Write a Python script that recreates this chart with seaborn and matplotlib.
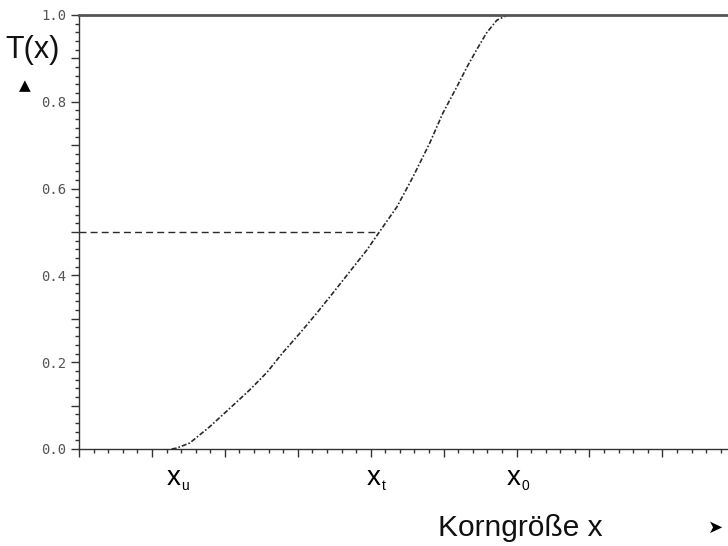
import numpy as np
import pandas as pd
import matplotlib
matplotlib.use("Agg")
import matplotlib.pyplot as plt
import seaborn as sns
from matplotlib.ticker import FixedLocator, MultipleLocator, NullFormatter

# ---- data ----
korn_x = [1.27, 1.34, 1.52, 1.79, 2.07, 2.34, 2.58, 2.79, 3.03, 3.26, 3.48, 3.71,
          3.95, 4.11, 4.36, 4.58, 4.81, 4.99, 5.18, 5.32, 5.45, 5.59, 5.73, 5.88, 8.9]
t_values = [0.0, 0.002, 0.014, 0.051, 0.094, 0.136, 0.177, 0.221, 0.267, 0.313, 0.359, 0.408,
            0.459, 0.498, 0.558, 0.627, 0.705, 0.774, 0.834, 0.880, 0.919, 0.959, 0.988, 1.0, 1.0]
median_x = [0.0, 4.11]
median_y = [0.5, 0.5]
ytick_values = [0.0, 0.1, 0.2, 0.3, 0.4, 0.5, 0.6, 0.7, 0.8, 0.9, 1.0]
ytick_labels = ["0.0", "", "0.2", "", "0.4", "", "0.6", "", "0.8", "", "1.0"]
marker_names = ["x", "x", "x"]
marker_subs = ["u", "t", "0"]
marker_pos = [1.34, 4.08, 6.0]
xlabel_text = "Korngröße x"
ylabel_text = "T(x)"

sns.set_theme(style="ticks")
plt.rcParams["font.family"] = ["Liberation Sans", "DejaVu Sans"]

fig = plt.figure(figsize=(7.28, 5.46), dpi=100)
ax = fig.add_axes([79 / 728, 1 - 449 / 546, 1 - 79 / 728, (449 - 15) / 546])

curve = pd.DataFrame({"x": korn_x, "T": t_values})
sns.lineplot(data=curve, x="x", y="T", ax=ax, color="#2a2a2a", linewidth=1.2, sort=False)
ax.lines[-1].set_dashes((3, 1.2, 1, 1.2))

med = pd.DataFrame({"x": median_x, "y": median_y})
sns.lineplot(data=med, x="x", y="y", ax=ax, color="#2a2a2a", linewidth=1.0, sort=False)
ax.lines[-1].set_dashes((5, 3))

ax.set_xlim(0, 8.9)
ax.set_ylim(0, 1.0)

# y ticks
ax.yaxis.set_major_locator(FixedLocator(ytick_values))
ax.set_yticklabels(ytick_labels, family="DejaVu Sans Mono", fontsize=10, color="#555555")
ax.yaxis.set_minor_locator(MultipleLocator(0.02))
# x ticks
ax.xaxis.set_major_locator(MultipleLocator(1.0))
ax.xaxis.set_minor_locator(MultipleLocator(0.2))
ax.xaxis.set_major_formatter(NullFormatter())

ax.tick_params(axis="both", which="major", direction="out", length=6, width=1.0,
               color="#333333", pad=3)
ax.tick_params(axis="both", which="minor", direction="out", length=3, width=1.0,
               color="#333333")

ax.set_xlabel("")
ax.set_ylabel("")

for side in ["left", "bottom"]:
    ax.spines[side].set_color("#333333")
    ax.spines[side].set_linewidth(1.0)
ax.spines["top"].set_color("#555555")
ax.spines["top"].set_linewidth(2.0)
ax.spines["right"].set_visible(False)

# marker labels under the x axis
trans = ax.get_xaxis_transform()
for name, sub, xp in zip(marker_names, marker_subs, marker_pos):
    ax.annotate(name, xy=(xp, 0), xycoords=trans, xytext=(-2, -21), textcoords="offset points",
                ha="center", va="center", fontsize=20, color="black")
    ax.annotate(sub, xy=(xp, 0), xycoords=trans, xytext=(3.5, -27), textcoords="offset points",
                ha="left", va="center", fontsize=10, color="black")

# axis titles
fig.text(520 / 728, 1 - 528 / 546, xlabel_text, ha="center", va="center", fontsize=21.5, color="#111111")
fig.text(716 / 728, 1 - 528 / 546, "➤", ha="center", va="center", fontsize=13,
         family="DejaVu Sans", color="black")
fig.text(33 / 728, 1 - 50 / 546, ylabel_text, ha="center", va="center", fontsize=22, color="#111111")
fig.text(25 / 728, 1 - 86 / 546, "▲", ha="center", va="center", fontsize=11,
         family="DejaVu Sans", color="black")

fig.savefig("out.png", dpi=100)
